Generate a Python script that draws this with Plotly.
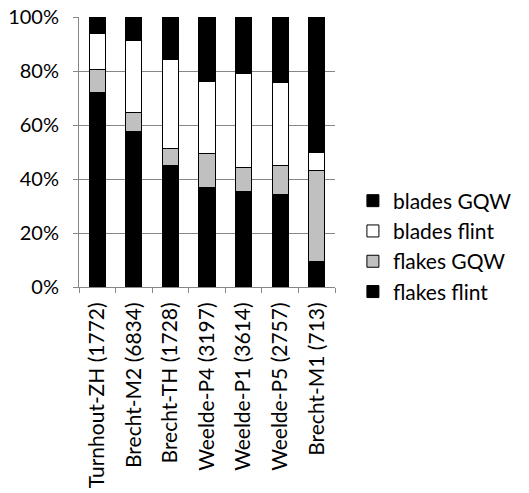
import plotly.graph_objects as go

categories = ["Turnhout-ZH (1772)", "Brecht-M2 (6834)", "Brecht-TH (1728)",
              "Weelde-P4 (3197)", "Weelde-P1 (3614)", "Weelde-P5 (2757)",
              "Brecht-M1 (713)"]

# percentages per site (bottom to top of each stack)
flakes_flint = [72.0, 57.7, 45.1, 36.7, 35.3, 34.2, 9.3]
flakes_gqw = [8.4, 6.9, 6.1, 12.8, 8.9, 10.9, 34.0]
blades_flint = [13.4, 26.6, 32.9, 26.7, 34.8, 30.7, 6.7]
blades_gqw = [6.2, 8.8, 15.9, 23.8, 21.0, 24.2, 50.0]

y_ticks = [0, 20, 40, 60, 80, 100]
y_tick_text = ["0%", "20%", "40%", "60%", "80%", "100%"]

series = [
    ("flakes flint", flakes_flint, "#000000"),
    ("flakes GQW", flakes_gqw, "#C0C0C0"),
    ("blades flint", blades_flint, "#FFFFFF"),
    ("blades GQW", blades_gqw, "#000000"),
]

font_family = "Lato, 'Open Sans', sans-serif"
grid_col = "#868686"

fig = go.Figure()
for name, vals, col in series:
    fig.add_trace(go.Bar(
        x=categories, y=vals, name=name, legendgroup=name,
        marker=dict(color=col, line=dict(color="#000000", width=1)),
    ))

fig.update_layout(
    barmode="stack",
    bargap=0.56,
    width=529, height=493,
    margin=dict(l=79, r=176, t=17, b=206),
    paper_bgcolor="white", plot_bgcolor="white",
    font=dict(family=font_family, size=21, color="#000000"),
    showlegend=True,
    legend=dict(
        traceorder="reversed",
        x=1.07, xanchor="left",
        y=0.15, yanchor="middle",
        font=dict(size=21),
        itemwidth=30,
        tracegroupgap=14,
    ),
    xaxis=dict(
        tickangle=-90,
        showline=True, linecolor=grid_col, linewidth=1,
        ticks="outside", tickson="boundaries", ticklen=5, tickcolor=grid_col,
        showgrid=False,
        tickfont=dict(size=21),
        ticklabelstandoff=6,
        automargin=False,
    ),
    yaxis=dict(
        range=[0, 100],
        tickvals=y_ticks,
        ticktext=y_tick_text,
        showline=True, linecolor=grid_col, linewidth=1,
        ticks="outside", ticklen=5, tickcolor=grid_col,
        showgrid=True, gridcolor=grid_col, gridwidth=1,
        zeroline=False,
        tickfont=dict(size=20),
        ticklabelstandoff=10,
        automargin=False,
    ),
)

fig.write_html("out.html")
